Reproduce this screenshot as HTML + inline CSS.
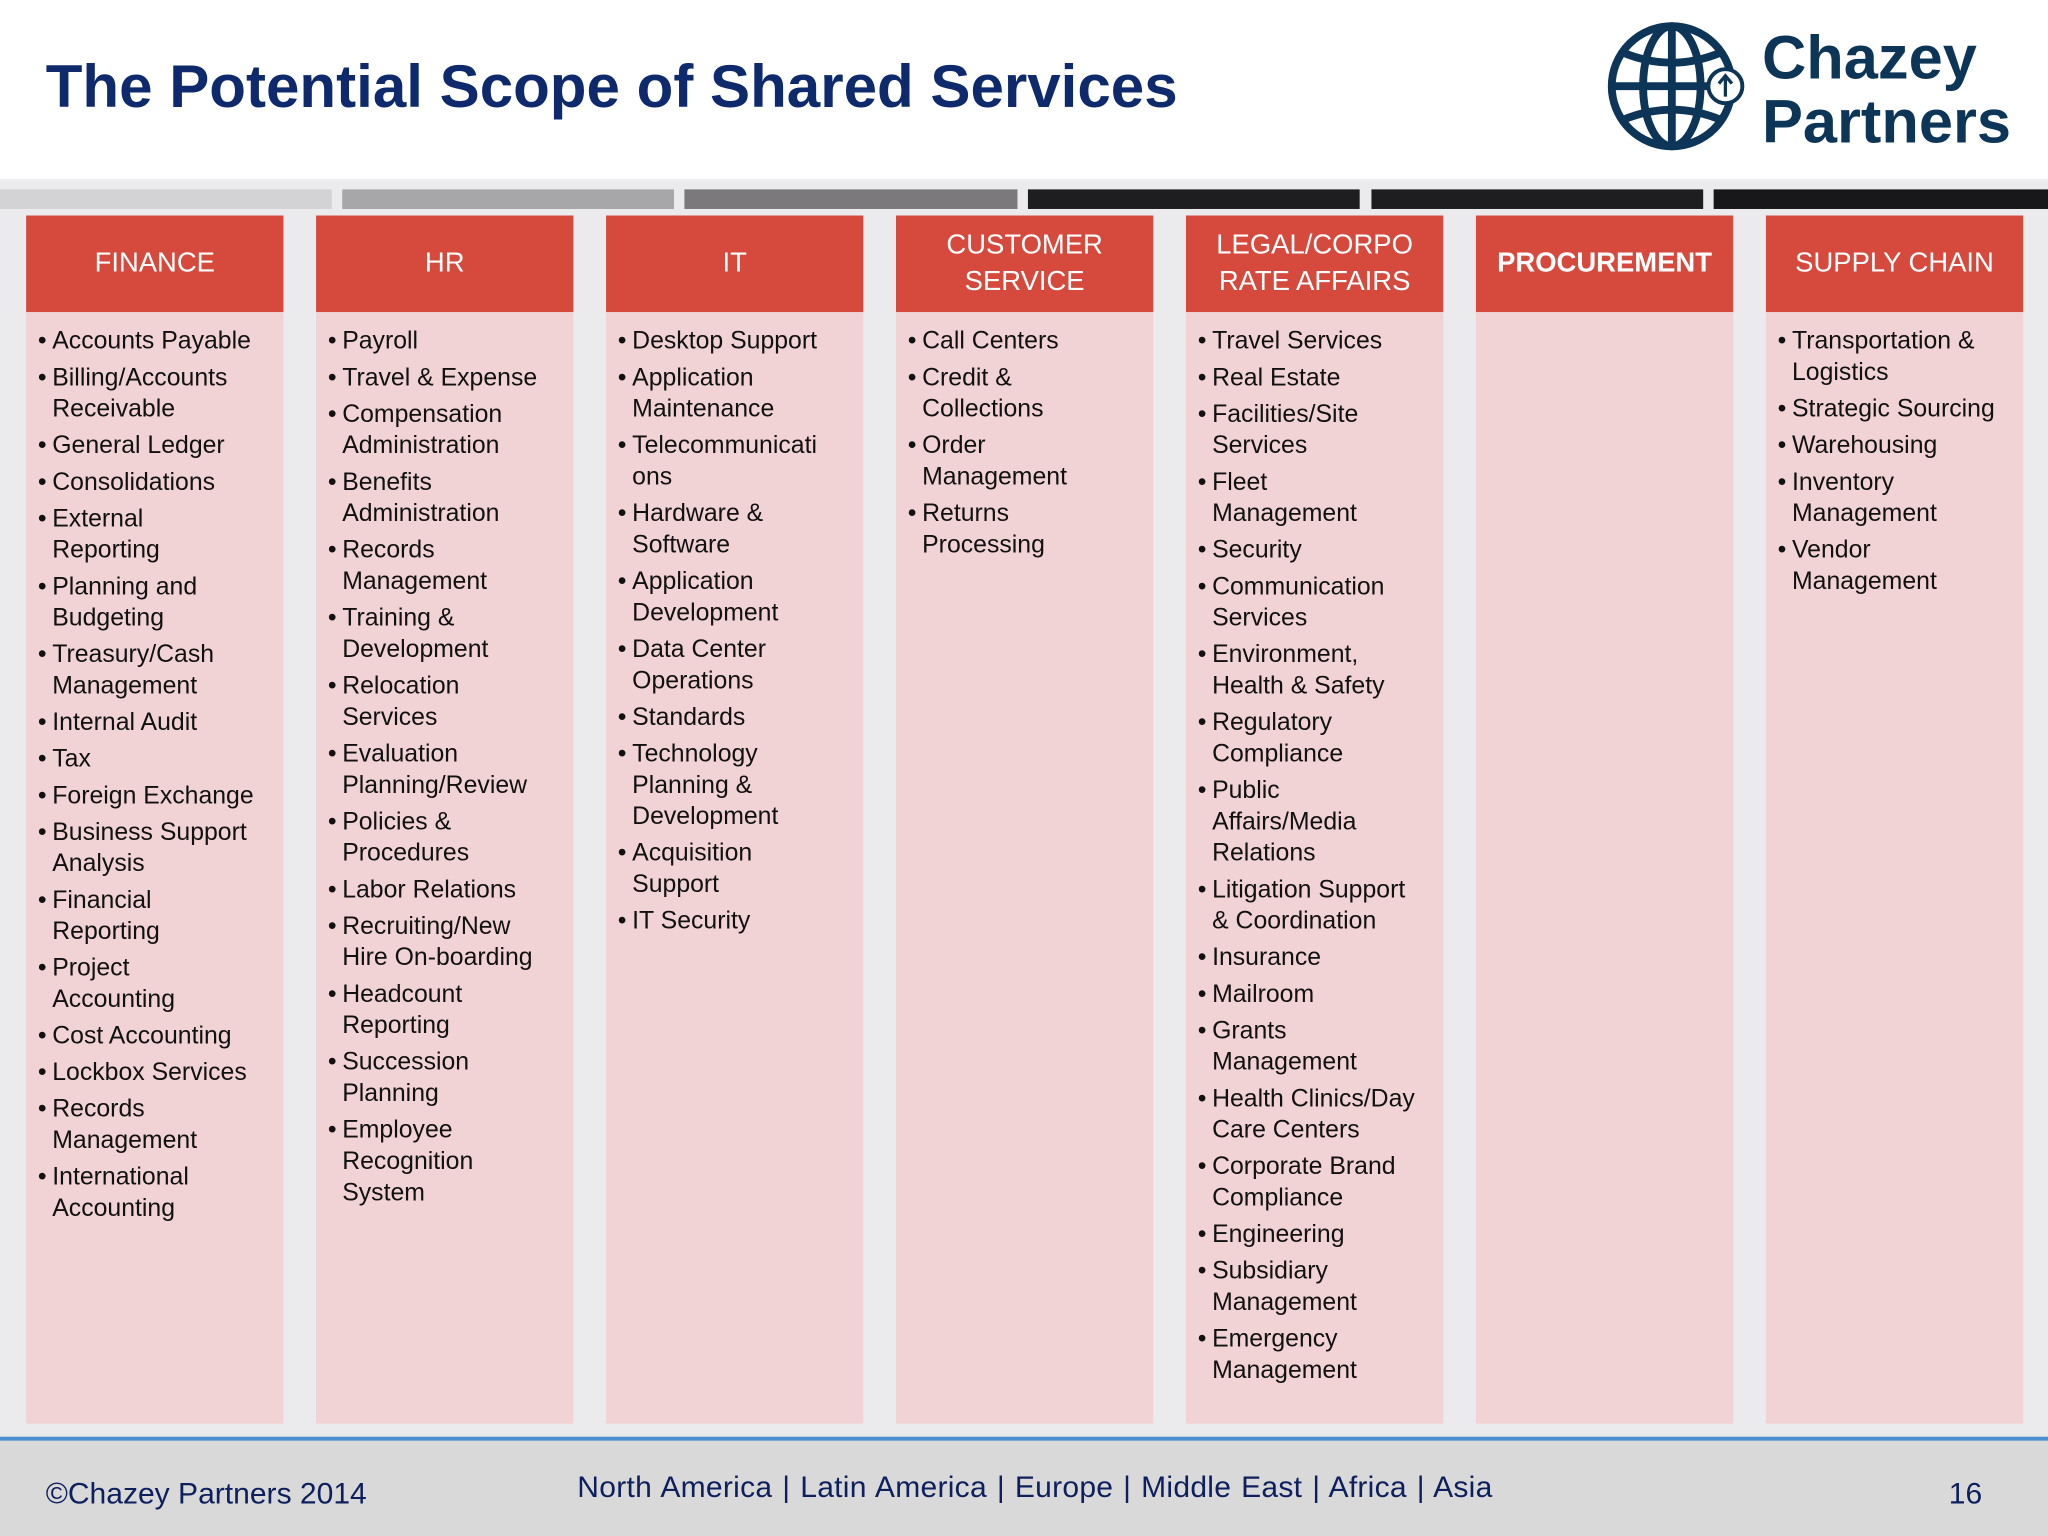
<!DOCTYPE html>
<html><head><meta charset="utf-8"><style>
html,body{margin:0;padding:0;background:#fff;}
body{width:2048px;height:1536px;overflow:hidden;}
#w{position:absolute;left:0;top:0;width:1568px;height:1176px;transform:scale(1.306122);transform-origin:0 0;font-family:"Liberation Sans",sans-serif;background:#fff;}
.abs{position:absolute;}
.hd{position:absolute;top:165px;width:197px;height:74px;background:#d54a3d;color:#fff;display:flex;align-items:center;justify-content:center;text-align:center;font-size:21px;line-height:28px;}
.bd{position:absolute;top:239px;width:197px;height:851px;background:#f1d3d5;box-sizing:border-box;padding-top:11px;}
.it{position:relative;padding-left:20px;font-size:19px;line-height:24px;color:#111;white-space:nowrap;margin-bottom:4px;}
.it:before{content:"•";position:absolute;left:9px;}
</style></head><body>
<div id="w">
<div class="abs" style="left:35px;top:39px;font-size:46px;font-weight:bold;color:#0e2a6c;white-space:nowrap;">The Potential Scope of Shared Services</div>
<svg class="abs" style="left:1230px;top:16px" width="110" height="100" viewBox="0 0 110 100">
<g fill="none" stroke="#0d3557" stroke-width="6">
<ellipse cx="50" cy="50" rx="46" ry="46"/><ellipse cx="50" cy="50" rx="22" ry="46"/>
<line x1="50" y1="4" x2="50" y2="96"/><line x1="4" y1="50" x2="80" y2="50"/>
<path d="M12 24 Q50 40 88 24"/><path d="M12 76 Q50 60 88 76"/></g>
<circle cx="91" cy="50" r="13" fill="#fff" stroke="#0d3557" stroke-width="3"/>
<path d="M91 58 V43 M86 48 L91 42 L96 48" stroke="#0d3557" stroke-width="2.5" fill="none"/>
</svg>
<div class="abs" style="left:1349px;top:19px;font-size:47px;font-weight:bold;color:#0d3557;line-height:49px;">Chazey<br>Partners</div>
<div class="abs" style="left:0;top:137px;width:1568px;height:963px;background:#ebebed;"></div>
<div class="abs" style="left:0;top:145px;width:254px;height:15px;background:#d3d3d5"></div>
<div class="abs" style="left:262px;top:145px;width:254px;height:15px;background:#a7a6a8"></div>
<div class="abs" style="left:524px;top:145px;width:255px;height:15px;background:#7b797c"></div>
<div class="abs" style="left:787px;top:145px;width:254px;height:15px;background:#1e1e20"></div>
<div class="abs" style="left:1050px;top:145px;width:254px;height:15px;background:#1e1e20"></div>
<div class="abs" style="left:1312px;top:145px;width:256px;height:15px;background:#18181a"></div>

<div class="hd" style="left:20px">FINANCE</div>
<div class="bd" style="left:20px">
<div class="it">Accounts Payable</div><div class="it">Billing/Accounts<br>Receivable</div><div class="it">General Ledger</div><div class="it">Consolidations</div><div class="it">External<br>Reporting</div><div class="it">Planning and<br>Budgeting</div><div class="it">Treasury/Cash<br>Management</div><div class="it">Internal Audit</div><div class="it">Tax</div><div class="it">Foreign Exchange</div><div class="it">Business Support<br>Analysis</div><div class="it">Financial<br>Reporting</div><div class="it">Project<br>Accounting</div><div class="it">Cost Accounting</div><div class="it">Lockbox Services</div><div class="it">Records<br>Management</div><div class="it">International<br>Accounting</div>
</div>

<div class="hd" style="left:242px">HR</div>
<div class="bd" style="left:242px">
<div class="it">Payroll</div><div class="it">Travel &amp; Expense</div><div class="it">Compensation<br>Administration</div><div class="it">Benefits<br>Administration</div><div class="it">Records<br>Management</div><div class="it">Training &amp;<br>Development</div><div class="it">Relocation<br>Services</div><div class="it">Evaluation<br>Planning/Review</div><div class="it">Policies &amp;<br>Procedures</div><div class="it">Labor Relations</div><div class="it">Recruiting/New<br>Hire On-boarding</div><div class="it">Headcount<br>Reporting</div><div class="it">Succession<br>Planning</div><div class="it">Employee<br>Recognition<br>System</div>
</div>

<div class="hd" style="left:464px">IT</div>
<div class="bd" style="left:464px">
<div class="it">Desktop Support</div><div class="it">Application<br>Maintenance</div><div class="it">Telecommunicati<br>ons</div><div class="it">Hardware &amp;<br>Software</div><div class="it">Application<br>Development</div><div class="it">Data Center<br>Operations</div><div class="it">Standards</div><div class="it">Technology<br>Planning &amp;<br>Development</div><div class="it">Acquisition<br>Support</div><div class="it">IT Security</div>
</div>

<div class="hd" style="left:686px">CUSTOMER<br>SERVICE</div>
<div class="bd" style="left:686px">
<div class="it">Call Centers</div><div class="it">Credit &amp;<br>Collections</div><div class="it">Order<br>Management</div><div class="it">Returns<br>Processing</div>
</div>

<div class="hd" style="left:908px">LEGAL/CORPO<br>RATE AFFAIRS</div>
<div class="bd" style="left:908px">
<div class="it">Travel Services</div><div class="it">Real Estate</div><div class="it">Facilities/Site<br>Services</div><div class="it">Fleet<br>Management</div><div class="it">Security</div><div class="it">Communication<br>Services</div><div class="it">Environment,<br>Health &amp; Safety</div><div class="it">Regulatory<br>Compliance</div><div class="it">Public<br>Affairs/Media<br>Relations</div><div class="it">Litigation Support<br>&amp; Coordination</div><div class="it">Insurance</div><div class="it">Mailroom</div><div class="it">Grants<br>Management</div><div class="it">Health Clinics/Day<br>Care Centers</div><div class="it">Corporate Brand<br>Compliance</div><div class="it">Engineering</div><div class="it">Subsidiary<br>Management</div><div class="it">Emergency<br>Management</div>
</div>

<div class="hd" style="left:1130px;font-weight:bold;">PROCUREMENT</div>
<div class="bd" style="left:1130px"></div>

<div class="hd" style="left:1352px">SUPPLY CHAIN</div>
<div class="bd" style="left:1352px">
<div class="it">Transportation &amp;<br>Logistics</div><div class="it">Strategic Sourcing</div><div class="it">Warehousing</div><div class="it">Inventory<br>Management</div><div class="it">Vendor<br>Management</div>
</div>

<div class="abs" style="left:0;top:1100px;width:1568px;height:76px;background:#d9d9d9;border-top:3px solid #4a8fd0;box-sizing:border-box;"></div>
<div class="abs" style="left:35px;top:1130px;font-size:23px;color:#0d1f5c;white-space:nowrap;">©Chazey Partners 2014</div>
<div class="abs" style="left:442px;top:1125px;font-size:23px;letter-spacing:0.2px;word-spacing:1px;color:#0d1f5c;white-space:nowrap;">North America | Latin America | Europe | Middle East | Africa | Asia</div>
<div class="abs" style="left:1492px;top:1130px;font-size:23px;color:#0d1f5c;">16</div>
</div>
</body></html>
